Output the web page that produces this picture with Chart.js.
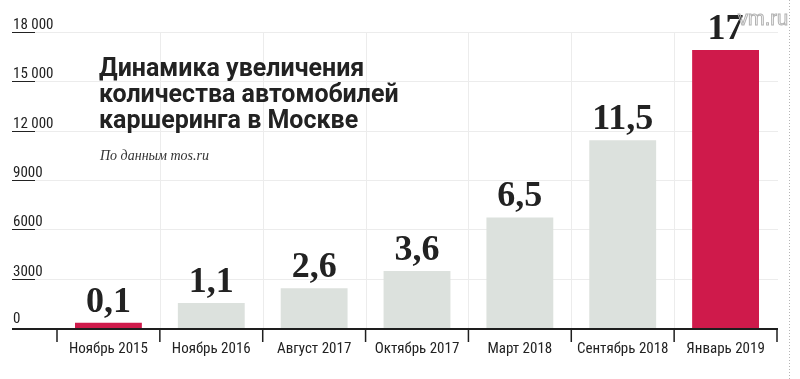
<!DOCTYPE html>
<html>
<head>
<meta charset="utf-8">
<script src="https://cdn.jsdelivr.net/npm/chart.js@4"></script>
<style>
html,body{margin:0;padding:0;background:#fff;}
#wrap{width:800px;height:379px;position:relative;}
</style>
</head>
<body>
<div id="wrap"><canvas id="c" width="800" height="379"></canvas></div>
<script>
const categories = ["Ноябрь 2015","Ноябрь 2016","Август 2017","Октябрь 2017","Март 2018","Сентябрь 2018","Январь 2019"];
const carCounts = [320, 1520, 2410, 3460, 6720, 11420, 16900];
const valueLabels = ["0,1","1,1","2,6","3,6","6,5","11,5","17"];
const highlighted = [true,false,false,false,false,false,true];
const yTickValues = [0,3000,6000,9000,12000,15000,18000];
const yTickLabels = ["0","3000","6000","9000","12 000","15 000","18 000"];
const titleLines = ["Динамика увеличения","количества автомобилей","каршеринга в Москве"];
const sourceText = "По данным mos.ru";
const watermark = "vm.ru";

const RED = "#cf1a4b", GREY = "#dce1dd";
const NARROW = "'Liberation Sans Narrow', 'Roboto Condensed', Roboto, sans-serif";

const deco = {
  id: 'deco',
  beforeDatasetsDraw(chart) {
    const ctx = chart.ctx, y = chart.scales.y, x = chart.scales.x;
    const area = chart.chartArea;
    const left = 12, right = 778;
    ctx.save();
    ctx.strokeStyle = "#ececec"; ctx.lineWidth = 1;
    yTickValues.forEach(v => {
      if (v === 0) return;
      const py = Math.round(y.getPixelForValue(v)) + 0.5;
      ctx.beginPath(); ctx.moveTo(left, py); ctx.lineTo(right, py); ctx.stroke();
    });
    for (let i = 1; i < categories.length; i++) {
      const px = Math.round((x.getPixelForValue(i - 1) + x.getPixelForValue(i)) / 2) + 0.5;
      ctx.beginPath(); ctx.moveTo(px, y.getPixelForValue(18000)); ctx.lineTo(px, area.bottom); ctx.stroke();
    }
    ctx.font = "15px " + NARROW;
    ctx.fillStyle = "#222"; ctx.textAlign = "left"; ctx.textBaseline = "alphabetic";
    ctx.strokeStyle = "#222"; ctx.lineWidth = 1;
    yTickValues.forEach((v, i) => {
      const py = Math.round(y.getPixelForValue(v)) + 0.5;
      if (v !== 0) {
        ctx.beginPath(); ctx.moveTo(left, py); ctx.lineTo(35, py); ctx.stroke();
      }
      ctx.fillText(yTickLabels[i], 13, py - (v === 0 ? 6 : 4));
    });
    ctx.restore();
  },
  afterDatasetsDraw(chart) {
    const ctx = chart.ctx, y = chart.scales.y, x = chart.scales.x;
    ctx.save();
    const by = y.getPixelForValue(0);
    ctx.strokeStyle = "#1e1e1e"; ctx.lineWidth = 2;
    ctx.beginPath(); ctx.moveTo(12, by + 1); ctx.lineTo(778, by + 1); ctx.stroke();
    ctx.lineWidth = 1.5;
    const step = x.getPixelForValue(1) - x.getPixelForValue(0);
    for (let i = 0; i <= categories.length; i++) {
      const px = x.getPixelForValue(0) - step / 2 + i * step;
      ctx.beginPath(); ctx.moveTo(px, by + 1); ctx.lineTo(px, by + 14); ctx.stroke();
    }
    ctx.font = "15px " + NARROW;
    ctx.fillStyle = "#222"; ctx.textAlign = "center"; ctx.textBaseline = "alphabetic";
    categories.forEach((c, i) => ctx.fillText(c, x.getPixelForValue(i), by + 25));
    ctx.font = "bold 36px 'Liberation Serif', 'DejaVu Serif', serif";
    ctx.fillStyle = "#222";
    const meta = chart.getDatasetMeta(0);
    meta.data.forEach((bar, i) => ctx.fillText(valueLabels[i], bar.x, bar.y - 11));
    ctx.textAlign = "left";
    ctx.font = "bold 25px Roboto, 'Noto Sans', sans-serif";
    ctx.fillStyle = "#222";
    titleLines.forEach((t, i) => ctx.fillText(t, 99, 76 + i * 26));
    ctx.font = "italic 14px 'Liberation Serif', 'DejaVu Serif', serif";
    ctx.fillStyle = "#333";
    ctx.fillText(sourceText, 100, 160);
    ctx.font = "20px 'Liberation Sans', sans-serif";
    ctx.strokeStyle = "#b3b3b3"; ctx.lineWidth = 1;
    ctx.strokeText(watermark, 738, 25);
    ctx.strokeStyle = "#b5b5b5"; ctx.setLineDash([1, 2]);
    ctx.beginPath(); ctx.moveTo(789.5, 0); ctx.lineTo(789.5, 379); ctx.stroke();
    ctx.restore();
  }
};

new Chart(document.getElementById('c'), {
  type: 'bar',
  data: {
    labels: categories,
    datasets: [{
      data: carCounts,
      backgroundColor: highlighted.map(h => h ? RED : GREY),
      borderWidth: 0,
      barPercentage: 0.65,
      categoryPercentage: 1.0
    }]
  },
  options: {
    responsive: false,
    animation: false,
    devicePixelRatio: 1,
    layout: { padding: { left: 57, right: 23, top: 32, bottom: 51 } },
    plugins: { legend: { display: false }, tooltip: { enabled: false } },
    scales: {
      x: { display: false },
      y: { display: false, min: 0, max: 18000 }
    }
  },
  plugins: [deco]
});
</script>
</body>
</html>
